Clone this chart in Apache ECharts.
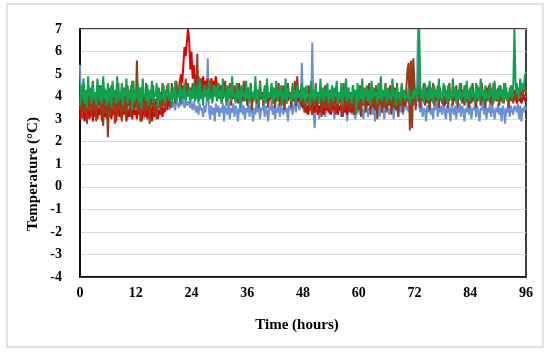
<!DOCTYPE html>
<html><head><meta charset="utf-8">
<script src="https://cdn.jsdelivr.net/npm/echarts@6/dist/echarts.min.js"></script>
<style>html,body{margin:0;padding:0;background:#fff}#c{width:550px;height:355px}</style>
</head><body><div id="c"></div>
<script>
const stepHours = 0.25;
const xTicks = [0, 12, 24, 36, 48, 60, 72, 84, 96];
const yTicks = [-4, -3, -2, -1, 0, 1, 2, 3, 4, 5, 6, 7];
const seriesNames = ['Blue', 'Red', 'Brown', 'Green'];

const blueValues = [
5.4,3.5,3.2,3.7,3.4,3.6,3.3,3.8,3.5,3.2,3.6,3.4,3.7,3.3,3.5,3.1,3.6,3.4,3.8,3.3,3.5,3.2,3.7,3.4,
3.6,3.3,3.5,3.8,3.2,3.6,3.4,3.7,3.3,3.5,3.1,3.6,3.4,3.8,3.3,3.5,3.6,3.2,3.7,3.4,3.5,3.3,3.8,3.4,
3.6,3.3,3.5,3.7,3.2,3.6,3.4,3.0,3.7,3.3,3.5,3.8,3.2,3.6,3.4,3.7,3.1,3.5,3.3,3.8,3.4,3.6,3.5,3.7,
3.4,3.8,3.5,3.6,3.9,3.4,3.7,3.5,3.8,3.6,3.4,3.9,3.7,3.5,3.8,3.6,4.0,3.7,3.5,3.9,3.6,3.8,3.7,3.5,
3.7,3.4,3.8,3.5,3.3,3.6,3.2,3.7,3.4,3.5,3.1,3.6,3.3,3.8,5.7,3.4,3.0,3.6,3.2,3.5,2.9,3.7,3.3,3.6,
3.1,3.5,3.3,3.7,2.9,3.6,3.4,3.2,3.8,3.0,3.5,3.3,3.7,3.1,3.6,3.4,2.9,3.5,3.3,3.8,3.2,3.6,3.0,3.5,
3.3,3.7,3.1,3.6,3.4,2.9,3.5,3.2,3.8,3.3,3.6,3.0,3.5,3.4,3.7,3.1,3.6,3.3,2.9,3.5,3.4,3.8,3.2,3.6,
3.0,3.5,3.3,3.7,3.1,3.6,3.4,3.2,3.8,3.3,3.5,2.9,3.6,3.4,3.7,3.2,3.5,3.8,3.3,4.6,3.6,3.4,3.7,5.5,
3.5,3.3,3.7,3.4,3.6,3.2,3.8,3.5,6.4,3.3,2.6,3.5,3.3,3.7,3.0,3.6,3.4,3.2,3.8,3.1,3.5,3.4,3.7,3.2,
3.6,3.3,3.5,3.0,3.7,3.4,3.2,3.6,3.5,3.1,3.8,3.3,3.6,3.4,2.9,3.5,3.3,3.7,3.2,3.6,3.4,3.0,3.5,3.3,
3.7,3.2,3.5,3.4,3.0,3.6,3.3,3.7,3.1,3.5,3.4,3.8,3.2,3.6,2.9,3.5,3.4,3.7,3.1,3.6,3.3,3.5,3.0,3.6,
3.4,3.7,3.2,3.5,3.3,3.8,3.0,3.6,3.4,3.5,3.1,3.7,3.3,3.6,3.2,3.5,3.8,3.4,3.6,3.3,3.7,3.5,3.9,3.6,
3.8,4.2,3.9,7.0,3.6,3.3,3.7,3.1,3.5,3.4,2.9,3.6,3.3,3.7,3.2,3.5,3.0,3.6,3.4,3.8,3.1,3.5,3.3,3.6,
3.2,3.7,3.4,3.0,3.6,3.3,3.5,2.9,3.7,3.4,3.2,3.6,3.0,3.5,3.3,3.7,3.1,3.6,3.4,2.9,3.5,3.3,3.8,3.2,
3.6,3.0,3.5,3.4,3.7,3.1,3.6,3.3,2.9,3.5,3.4,3.8,3.2,3.6,3.0,3.5,3.3,3.7,3.1,3.6,3.4,3.0,3.5,3.3,
3.7,3.2,3.5,2.9,3.6,3.4,2.8,3.5,3.3,3.7,3.1,3.6,3.4,3.2,3.6,3.5,3.3,3.7,3.0,3.6,2.9,3.5,3.3,3.6,
3.4];

const redValues = [
3.0,3.6,3.1,3.5,2.9,3.4,3.2,3.6,3.0,3.3,3.5,2.9,3.4,3.1,3.6,3.0,3.5,3.2,3.4,2.9,3.6,3.1,3.3,3.0,
3.5,3.1,3.6,3.0,3.4,3.2,3.5,2.9,3.3,3.6,3.1,3.4,3.0,3.5,3.2,3.6,2.9,3.4,3.1,3.5,3.3,3.0,3.6,3.2,
3.4,3.0,3.5,3.2,3.6,2.9,3.3,3.5,3.1,3.6,3.0,3.4,3.2,3.5,2.9,3.6,3.1,3.3,3.5,3.0,3.4,3.2,3.6,3.1,
3.5,3.3,3.7,3.4,3.8,3.6,3.9,3.7,4.1,3.9,4.2,4.0,4.4,4.2,4.7,5.0,4.6,5.4,6.2,5.8,6.4,7.0,6.5,5.2,
6.0,4.8,5.4,4.7,5.0,4.6,4.9,4.5,4.8,4.6,4.9,4.4,4.7,4.5,4.8,4.3,4.6,4.8,4.4,4.7,4.5,4.9,4.3,4.6,
4.4,4.1,4.5,3.9,4.3,4.0,4.4,3.8,4.2,4.0,4.3,3.9,4.1,4.2,3.8,4.3,4.0,4.1,3.9,4.2,4.0,3.8,4.1,3.9,
4.0,3.8,4.2,3.9,4.1,3.8,4.0,4.2,3.9,4.1,3.8,4.0,3.9,4.2,3.8,4.1,4.0,3.9,4.2,3.8,4.0,4.1,3.9,4.0,
3.9,4.1,3.8,4.0,4.2,3.9,4.1,3.8,4.0,3.9,4.2,3.8,4.1,4.0,3.9,4.2,3.8,4.0,4.1,3.9,3.8,4.0,3.7,3.6,
3.5,3.7,3.3,3.6,3.2,3.7,3.4,3.5,3.2,3.6,3.3,3.7,3.4,3.2,3.6,3.3,3.7,3.5,3.2,3.6,3.4,3.7,3.3,3.5,
3.2,3.6,3.4,3.7,3.3,3.5,3.2,3.6,3.4,3.7,3.1,3.5,3.3,3.6,3.2,3.7,3.4,3.5,3.3,3.6,3.2,3.5,3.4,3.7,
3.5,3.8,3.6,3.9,3.7,4.0,3.8,3.9,3.6,4.0,3.8,3.7,3.9,4.1,3.8,3.9,3.7,4.0,3.8,3.9,3.6,4.0,3.8,3.9,
3.7,4.0,3.8,3.9,3.6,3.8,3.7,3.9,3.6,3.8,3.7,4.0,3.6,3.9,3.7,3.8,3.6,3.9,4.0,3.7,3.8,4.0,3.7,3.9,
3.8,4.0,3.9,3.8,4.1,3.9,4.0,3.8,4.1,3.9,3.8,4.0,3.9,4.1,3.8,4.0,3.9,3.8,4.0,3.9,4.1,3.8,4.0,3.9,
3.7,3.8,3.6,3.9,3.7,3.8,3.9,4.0,3.9,4.1,3.8,4.0,3.9,3.8,4.1,3.9,4.0,3.8,4.1,3.9,4.0,3.8,3.9,4.1,
3.9,4.0,3.8,4.1,3.9,4.0,3.8,4.1,4.0,3.9,3.8,4.1,3.9,4.0,3.8,3.9,4.1,4.0,3.8,3.9,4.0,4.1,3.9,3.8,
4.0,3.9,4.1,3.8,4.0,3.9,4.1,4.0,3.8,3.9,4.1,4.0,3.9,3.8,3.9,4.0,3.7,3.9,3.8,4.0,3.7,3.9,4.1,3.8,
4.0];

const brownValues = [
3.4,4.2,3.0,4.6,3.3,4.0,2.8,4.4,3.5,4.1,3.1,4.7,3.4,3.9,2.9,4.3,3.6,4.5,3.2,4.0,2.7,4.4,3.3,4.1,
2.2,3.8,3.1,4.5,3.4,4.0,2.8,4.3,3.2,4.6,3.5,3.9,2.9,4.4,3.3,4.1,3.0,4.5,3.6,4.2,3.1,4.7,3.4,4.0,
3.5,5.6,3.3,4.2,2.9,4.4,3.5,4.0,3.1,4.6,3.4,4.1,2.8,4.3,3.6,4.5,3.2,3.9,3.0,4.4,3.5,4.2,3.3,4.6,
3.6,4.3,3.4,4.5,3.8,4.2,3.5,4.6,3.9,4.3,3.7,4.7,4.0,4.4,3.8,4.6,4.1,4.5,3.9,4.8,4.2,4.6,4.0,4.4,
4.1,4.6,4.3,4.8,4.0,5.9,3.8,4.5,4.2,4.7,3.9,4.4,4.1,4.6,3.8,4.5,4.0,4.8,3.9,4.3,4.1,4.6,3.8,4.4,
4.0,4.5,3.7,4.3,4.1,4.7,3.8,4.4,4.0,4.6,3.6,4.2,3.9,4.5,4.1,4.3,3.7,4.6,4.0,4.4,3.8,4.7,3.9,4.2,
3.6,4.4,3.9,4.6,3.4,4.2,4.0,4.5,3.7,4.3,3.5,4.7,3.9,4.1,3.6,4.4,3.8,4.6,3.5,4.2,4.0,4.5,3.7,4.3,
3.5,4.4,3.8,4.6,3.6,4.2,3.9,4.5,3.4,4.3,3.7,4.6,3.9,4.2,3.5,4.4,3.8,4.7,3.6,4.9,4.0,4.3,3.7,4.5,
3.6,4.4,3.3,4.2,3.7,4.5,3.4,4.1,3.2,4.3,3.6,4.6,3.3,4.0,3.7,4.4,3.1,4.2,3.5,4.5,3.4,4.1,3.6,4.3,
3.3,4.4,3.6,4.2,3.2,4.5,3.5,4.1,3.7,4.3,3.1,4.6,3.4,4.0,3.6,4.4,3.3,4.2,3.5,4.5,3.2,4.1,3.6,4.3,
3.4,4.5,3.1,4.2,3.6,4.4,3.3,4.0,3.7,4.6,3.2,4.3,3.5,4.1,3.4,4.5,3.0,4.2,3.6,4.4,3.3,4.1,3.5,4.6,
3.3,4.3,3.6,4.5,3.2,4.1,3.5,4.4,3.4,4.6,3.1,4.2,3.6,4.5,3.3,4.0,3.7,4.4,5.2,5.5,2.5,5.6,2.6,5.7,
4.6,3.4,4.3,3.8,4.5,3.5,4.2,3.9,4.6,3.6,4.4,3.7,4.5,3.4,4.2,3.9,4.6,3.6,4.3,3.8,4.5,3.5,4.4,3.9,
4.2,3.6,4.5,3.8,4.3,3.5,4.6,3.9,4.1,3.6,4.4,3.8,4.5,3.5,4.2,3.9,4.6,3.7,4.3,3.6,4.5,3.8,4.2,3.5,
4.4,3.7,4.6,3.8,4.2,3.5,4.5,3.9,4.3,3.6,4.6,3.8,4.1,3.5,4.4,3.9,4.5,3.7,4.2,3.6,4.6,3.8,4.3,3.9,
4.4,3.6,4.5,3.8,4.3,3.7,4.6,3.9,4.2,3.5,4.4,3.8,4.5,3.7,4.3,3.9,4.6,3.8,4.2,4.0,4.5,3.9,4.3,4.4,
4.2];

const greenValues = [
3.6,4.5,3.9,4.8,3.7,4.3,3.5,4.9,4.0,4.4,3.7,4.6,3.9,4.2,3.6,4.8,4.1,3.8,4.5,3.7,4.9,3.9,4.3,3.6,
4.6,3.8,4.4,3.5,4.7,4.0,4.3,3.7,4.9,3.8,4.2,3.9,4.6,3.6,4.4,4.0,4.8,3.7,4.3,3.9,4.5,3.4,4.7,3.8,
4.2,3.9,4.6,3.7,4.4,3.5,4.8,4.0,4.1,3.8,4.5,3.6,4.3,3.9,4.7,3.7,4.2,4.0,4.6,3.5,4.4,3.8,4.1,3.9,
4.5,3.7,4.3,4.0,4.6,3.8,4.2,3.6,4.4,3.9,4.7,3.8,4.1,4.0,4.5,3.7,4.3,3.9,4.6,3.8,4.2,4.0,4.4,3.7,
4.3,3.9,4.6,3.8,4.0,4.5,3.7,4.8,3.9,4.2,3.6,4.5,4.0,4.3,3.8,4.7,3.9,4.1,3.7,4.5,4.0,4.4,3.8,4.6,
3.9,4.3,3.7,4.8,4.0,4.2,3.6,4.5,3.9,4.4,3.8,4.9,4.0,4.1,3.7,4.6,3.9,4.3,3.5,4.5,4.0,4.2,3.8,4.7,
3.9,4.4,3.7,4.5,4.0,4.2,3.8,4.9,3.9,4.3,3.6,4.6,4.0,4.1,3.8,4.5,3.7,4.8,3.9,4.2,4.0,4.6,3.7,4.4,
3.9,4.7,3.8,4.3,4.0,4.5,3.6,4.2,3.9,4.8,3.7,4.4,4.0,4.1,3.8,4.6,3.9,4.3,3.7,4.5,4.0,4.2,3.8,4.6,
3.9,4.4,3.7,4.5,4.0,4.1,3.6,4.7,3.9,4.3,3.8,4.5,4.0,4.2,3.7,4.8,3.9,4.4,3.8,4.3,4.0,4.6,3.7,4.2,
3.9,4.5,3.8,4.4,4.0,4.7,3.7,4.2,3.9,4.6,3.6,4.3,4.0,4.8,3.8,4.4,3.9,4.2,3.7,4.5,4.0,4.3,3.2,4.6,
3.8,4.4,3.9,4.8,3.7,4.2,4.0,4.5,3.8,4.3,3.6,4.7,3.9,4.4,4.0,4.2,3.7,4.6,3.9,4.9,3.8,4.3,4.0,4.5,
3.7,4.4,3.9,4.2,3.8,4.8,4.0,4.3,3.6,4.5,3.9,4.2,3.7,4.6,4.0,4.3,3.8,4.1,3.9,4.4,3.7,4.0,3.9,4.3,
4.0,4.4,3.8,4.2,7.0,4.5,3.9,4.3,3.7,4.6,4.0,4.2,3.8,4.7,3.9,4.4,3.7,4.5,4.0,4.3,3.8,4.8,3.9,4.2,
3.8,4.6,4.0,4.3,3.7,4.5,3.9,4.2,3.8,4.8,4.0,4.4,3.7,4.3,3.9,4.6,3.8,4.2,4.0,4.5,3.7,4.7,3.9,4.3,
3.8,4.5,4.0,4.2,3.7,4.6,3.9,4.4,3.8,4.8,4.0,4.3,3.7,4.5,3.9,4.2,3.8,4.6,4.0,4.4,3.7,4.7,3.9,4.3,
3.8,4.5,4.0,4.3,3.7,4.6,3.9,4.4,3.8,4.2,4.0,4.5,3.9,4.3,7.0,4.6,4.1,4.4,3.9,4.8,4.2,4.6,4.3,4.9,
5.1];

const colors = ['#6d8fd6', '#e00000', '#953c18', '#10a050'];
const allValues = [blueValues, redValues, brownValues, greenValues];

function pairs(vals) { return vals.map((v, i) => [i * stepHours, v]); }

const fontFam = '"Liberation Serif", "Times New Roman", serif';
const chart = echarts.init(document.getElementById('c'), null, {renderer: 'canvas'});
chart.setOption({
  animation: false,
  backgroundColor: '#fff',
  grid: {left: 80, right: 24, top: 29, bottom: 78, show: true, borderColor: '#000', borderWidth: 1.5, backgroundColor: 'transparent'},
  xAxis: {
    type: 'value', min: xTicks[0], max: xTicks[xTicks.length - 1], interval: 12,
    axisLine: {show: true, onZero: false, lineStyle: {color: '#000', width: 1.5}},
    axisTick: {show: false},
    splitLine: {show: false},
    axisLabel: {color: '#000', fontFamily: fontFam, fontWeight: 'bold', fontSize: 14, margin: 9}
  },
  yAxis: {
    type: 'value', min: yTicks[0], max: yTicks[yTicks.length - 1], interval: 1,
    axisLine: {show: true, onZero: false, lineStyle: {color: '#000', width: 1.5}},
    axisTick: {show: false},
    splitLine: {show: true, lineStyle: {color: '#d9d9d9', width: 1}},
    axisLabel: {color: '#000', fontFamily: fontFam, fontWeight: 'bold', fontSize: 14, margin: 18}
  },
  series: allValues.map((vals, k) => ({
    name: seriesNames[k], type: 'line', data: pairs(vals), showSymbol: false, symbol: 'none',
    lineStyle: {color: colors[k], width: 2}, z: 2 + k
  })),
  graphic: [
    {type: 'rect', shape: {x: 7, y: 4, width: 536, height: 343}, style: {fill: 'none', stroke: '#d9d9d9', lineWidth: 1.5}, z: -1},
    {type: 'text', x: 33, y: 174, rotation: Math.PI / 2, style: {text: 'Temperature (°C)', fill: '#000', font: 'bold 15px ' + fontFam, textAlign: 'center', textVerticalAlign: 'middle'}},
    {type: 'text', x: 297, y: 325, style: {text: 'Time (hours)', fill: '#000', font: 'bold 15px ' + fontFam, textAlign: 'center', textVerticalAlign: 'middle'}}
  ]
});
</script></body></html>
